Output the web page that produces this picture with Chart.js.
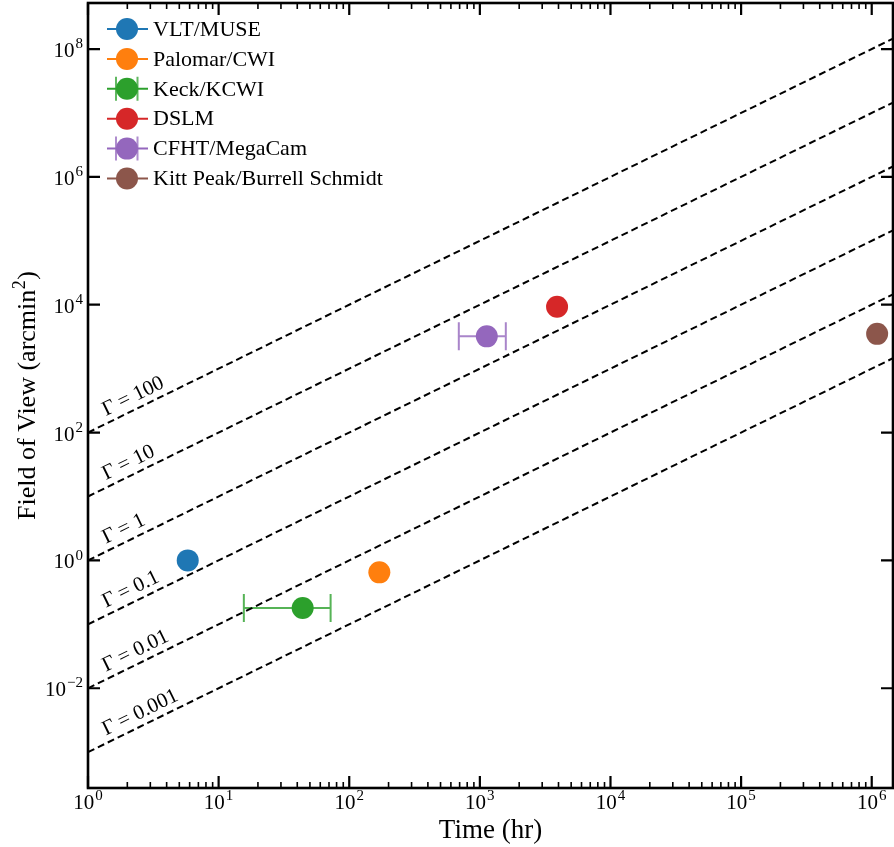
<!DOCTYPE html>
<html>
<head>
<meta charset="utf-8">
<script src="https://cdn.jsdelivr.net/npm/chart.js@4.4.1/dist/chart.umd.min.js"></script>
<style>
html, body { margin: 0; padding: 0; background: #fff; }
canvas { display: block; }
</style>
</head>
<body>
<canvas id="chart" width="894" height="847"></canvas>
<script>
// data
var instruments = ['VLT/MUSE', 'Palomar/CWI', 'Keck/KCWI', 'DSLM', 'CFHT/MegaCam', 'Kitt Peak/Burrell Schmidt'];
var colors = ['#1f77b4', '#ff7f0e', '#2ca02c', '#d62728', '#9467bd', '#8c564b'];
var timeHr = [5.8, 170, 44, 3900, 1130, 1.1e6];
var fovArcmin2 = [1.0, 0.65, 0.18, 9300, 3200, 3500];
var timeLow = [null, null, 15.6, null, 690, null];
var timeHigh = [null, null, 72, null, 1580, null];

var gammas = [100, 10, 1, 0.1, 0.01, 0.001];
var gammaLabels = ['100', '10', '1', '0.1', '0.01', '0.001'];
var gammaLabelX = 1.45;

var xRange = [1, 1.455e6];
var yRange = [2.75e-4, 5.25e8];
var xMajorTicks = [1, 10, 100, 1e3, 1e4, 1e5, 1e6];
var xTickExp = ['0', '1', '2', '3', '4', '5', '6'];
var yMajorTicks = [1e-2, 1, 1e2, 1e4, 1e6, 1e8];
var yTickExp = ['\u22122', '0', '2', '4', '6', '8'];

var FONT = '"Liberation Serif", "Times New Roman", serif';

function xMinorTicks() {
	var out = [];
	for (var d = 0; d < 7; d++) {
		for (var k = 2; k < 10; k++) {
			var v = k * Math.pow(10, d);
			if (v < xRange[1]) out.push(v);
		}
	}
	return out;
}

// "10" with a raised exponent
function drawPow(ctx, exp, x, y, align, size) {
	var sup = Math.round(size * 0.7);
	ctx.font = size + 'px ' + FONT;
	var w1 = ctx.measureText('10').width;
	ctx.font = sup + 'px ' + FONT;
	var w2 = ctx.measureText(exp).width;
	var total = w1 + 1 + w2;
	var start = align === 'center' ? x - total / 2 : x - total;
	ctx.textAlign = 'left';
	ctx.textBaseline = 'alphabetic';
	ctx.font = size + 'px ' + FONT;
	ctx.fillText('10', start, y);
	ctx.font = sup + 'px ' + FONT;
	ctx.fillText(exp, start + w1 + 1, y - size * 0.42);
}

var errorBars = {
	id: 'errorBars',
	beforeDatasetsDraw: function (chart) {
		var ctx = chart.ctx, xs = chart.scales.x, ys = chart.scales.y;
		ctx.save();
		ctx.globalAlpha = 0.8;
		ctx.lineWidth = 2;
		for (var i = 0; i < instruments.length; i++) {
			if (timeLow[i] == null) continue;
			var x1 = xs.getPixelForValue(timeLow[i]);
			var x2 = xs.getPixelForValue(timeHigh[i]);
			var py = ys.getPixelForValue(fovArcmin2[i]);
			ctx.strokeStyle = colors[i];
			ctx.beginPath();
			ctx.moveTo(x1, py); ctx.lineTo(x2, py);
			ctx.moveTo(x1, py - 14); ctx.lineTo(x1, py + 14);
			ctx.moveTo(x2, py - 14); ctx.lineTo(x2, py + 14);
			ctx.stroke();
		}
		ctx.restore();
	}
};

var decorations = {
	id: 'decorations',
	afterDraw: function (chart) {
		var ctx = chart.ctx, xs = chart.scales.x, ys = chart.scales.y;
		var a = chart.chartArea;
		ctx.save();
		ctx.fillStyle = '#000';
		ctx.strokeStyle = '#000';

		// gamma labels along the dashed lines
		ctx.font = '21px ' + FONT;
		for (var g = 0; g < gammas.length; g++) {
			var p0x = xs.getPixelForValue(xRange[0]), p0y = ys.getPixelForValue(gammas[g] * xRange[0]);
			var p1x = xs.getPixelForValue(xRange[1]), p1y = ys.getPixelForValue(gammas[g] * xRange[1]);
			var ang = Math.atan2(p1y - p0y, p1x - p0x);
			var px = xs.getPixelForValue(gammaLabelX);
			var py = ys.getPixelForValue(gammas[g] * gammaLabelX);
			ctx.save();
			ctx.translate(px, py);
			ctx.rotate(ang);
			ctx.textAlign = 'left';
			ctx.textBaseline = 'alphabetic';
			ctx.fillText('\u0393 = ' + gammaLabels[g], 0, -7);
			ctx.restore();
		}

		// ticks
		ctx.lineWidth = 2.2;
		ctx.beginPath();
		xMajorTicks.forEach(function (v) {
			var px = xs.getPixelForValue(v);
			ctx.moveTo(px, a.bottom); ctx.lineTo(px, a.bottom - 12);
			ctx.moveTo(px, a.top); ctx.lineTo(px, a.top + 12);
		});
		yMajorTicks.forEach(function (v) {
			var py = ys.getPixelForValue(v);
			ctx.moveTo(a.left, py); ctx.lineTo(a.left + 12, py);
			ctx.moveTo(a.right, py); ctx.lineTo(a.right - 12, py);
		});
		ctx.stroke();
		ctx.lineWidth = 1.6;
		ctx.beginPath();
		xMinorTicks().forEach(function (v) {
			var px = xs.getPixelForValue(v);
			ctx.moveTo(px, a.bottom); ctx.lineTo(px, a.bottom - 6);
			ctx.moveTo(px, a.top); ctx.lineTo(px, a.top + 6);
		});
		ctx.stroke();

		// frame
		ctx.lineWidth = 2.6;
		ctx.strokeRect(a.left, a.top, a.right - a.left, a.bottom - a.top);

		// tick labels
		xMajorTicks.forEach(function (v, i) {
			drawPow(ctx, xTickExp[i], xs.getPixelForValue(v), a.bottom + 21, 'center', 21);
		});
		yMajorTicks.forEach(function (v, i) {
			drawPow(ctx, yTickExp[i], a.left - 5, ys.getPixelForValue(v) + 8, 'right', 21);
		});

		// axis titles
		ctx.font = '27px ' + FONT;
		ctx.textAlign = 'center';
		ctx.textBaseline = 'alphabetic';
		ctx.fillText('Time (hr)', (a.left + a.right) / 2, 838);

		ctx.save();
		ctx.translate(35, (a.top + a.bottom) / 2);
		ctx.rotate(-Math.PI / 2);
		var t1 = 'Field of View (arcmin', t2 = '2', t3 = ')';
		ctx.font = '26px ' + FONT;
		var w1 = ctx.measureText(t1).width, w3 = ctx.measureText(t3).width;
		ctx.font = '18px ' + FONT;
		var w2 = ctx.measureText(t2).width;
		var sx = -(w1 + w2 + w3 + 1) / 2;
		ctx.textAlign = 'left';
		ctx.font = '26px ' + FONT;
		ctx.fillText(t1, sx, 0);
		ctx.fillText(t3, sx + w1 + w2 + 1, 0);
		ctx.font = '18px ' + FONT;
		ctx.fillText(t2, sx + w1 + 0.5, -10);
		ctx.restore();

		// legend
		for (var i = 0; i < instruments.length; i++) {
			var cy = 29 + i * 29.9;
			ctx.strokeStyle = colors[i];
			ctx.fillStyle = colors[i];
			ctx.lineWidth = 2;
			ctx.beginPath();
			ctx.moveTo(107, cy); ctx.lineTo(148, cy);
			ctx.stroke();
			if (timeLow[i] != null) {
				ctx.globalAlpha = 0.75;
				ctx.beginPath();
				ctx.moveTo(116, cy - 12); ctx.lineTo(116, cy + 12);
				ctx.moveTo(137.5, cy - 12); ctx.lineTo(137.5, cy + 12);
				ctx.stroke();
				ctx.globalAlpha = 1;
			}
			ctx.beginPath();
			ctx.arc(127, cy, 11, 0, Math.PI * 2);
			ctx.fill();
			ctx.fillStyle = '#000';
			ctx.font = '22px ' + FONT;
			ctx.textAlign = 'left';
			ctx.textBaseline = 'middle';
			ctx.fillText(instruments[i], 153, cy + 1);
		}
		ctx.restore();
	}
};

var datasets = [];
instruments.forEach(function (name, i) {
	datasets.push({
		label: name,
		data: [{ x: timeHr[i], y: fovArcmin2[i] }],
		backgroundColor: colors[i],
		borderWidth: 0,
		pointRadius: 11,
		pointHoverRadius: 11,
		order: 0
	});
});
gammas.forEach(function (g, i) {
	datasets.push({
		label: 'Gamma = ' + gammaLabels[i],
		data: [{ x: xRange[0], y: g * xRange[0] }, { x: xRange[1], y: g * xRange[1] }],
		showLine: true,
		borderColor: '#000',
		borderWidth: 2,
		borderDash: [7, 4],
		pointRadius: 0,
		fill: false,
		order: 1
	});
});

var chart = new Chart(document.getElementById('chart').getContext('2d'), {
	type: 'scatter',
	data: { datasets: datasets },
	options: {
		responsive: false,
		animation: false,
		devicePixelRatio: 1,
		layout: { autoPadding: false, padding: { top: 3, right: 1, left: 0, bottom: 0 } },
		plugins: { legend: { display: false }, tooltip: { enabled: false } },
		scales: {
			x: {
				type: 'logarithmic',
				min: xRange[0],
				max: xRange[1],
				bounds: 'data',
				grid: { display: false },
				border: { display: false },
				ticks: { display: false },
				afterFit: function (s) { s.height = 59; }
			},
			y: {
				type: 'logarithmic',
				min: yRange[0],
				max: yRange[1],
				bounds: 'data',
				grid: { display: false },
				border: { display: false },
				ticks: { display: false },
				afterFit: function (s) { s.width = 88; }
			}
		}
	},
	plugins: [errorBars, decorations]
});
</script>
</body>
</html>
